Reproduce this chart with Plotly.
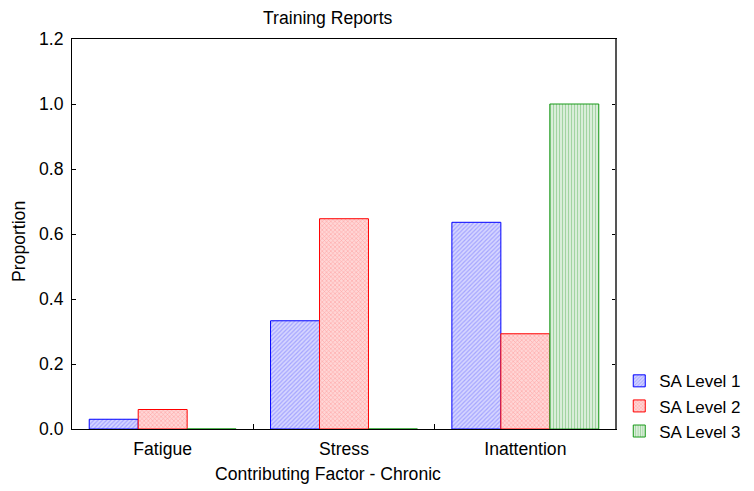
import plotly.graph_objects as go

categories = ["Fatigue", "Stress", "Inattention"]
series_names = ["SA Level 1", "SA Level 2", "SA Level 3"]
level1 = [0.03, 0.333, 0.636]
level2 = [0.06, 0.647, 0.293]
level3 = [0.0, 0.0, 1.0]
y_ticks = [0.0, 0.2, 0.4, 0.6, 0.8, 1.0, 1.2]

FONT = "Liberation Sans, Arial, sans-serif"
FS = 17.6

styles = [
    dict(line="#0000ff", fg="#a4a4ff", bg="#d6d6ff", shape="/", size=3, solidity=0.4),
    dict(line="#ff0000", fg="#ffa4a4", bg="#ffd6d6", shape="x", size=3, solidity=0.35),
    dict(line="#1a9a1a", fg="#a2d4a2", bg="#ffffff", shape="|", size=3, solidity=0.6),
]

fig = go.Figure()
for name, vals, st in zip(series_names, [level1, level2, level3], styles):
    fig.add_trace(go.Bar(
        x=categories, y=vals, name=name,
        marker=dict(
            color=st["bg"],
            line=dict(color=st["line"], width=1),
            pattern=dict(shape=st["shape"], fgcolor=st["fg"], bgcolor=st["bg"],
                         size=st["size"], solidity=st["solidity"], fillmode="replace"),
        ),
    ))

# The page body adds an 8px margin, so the figure is 8px smaller on each side.
fig.update_layout(
    width=746, height=483,
    margin=dict(l=64, r=138, t=31, b=62, autoexpand=False),
    paper_bgcolor="white", plot_bgcolor="white",
    font=dict(family=FONT, size=FS, color="black"),
    barmode="group", bargap=0.19, bargroupgap=0,
    showlegend=True,
    legend=dict(x=1.006, y=-0.052, xanchor="left", yanchor="bottom",
                bgcolor="rgba(0,0,0,0)", font=dict(size=17), tracegroupgap=0),
    annotations=[
        dict(text="Training Reports", xref="paper", yref="paper", x=0.47, y=1.0,
             yshift=21, showarrow=False, xanchor="center", yanchor="middle",
             font=dict(size=FS)),
        dict(text="Contributing Factor - Chronic", xref="paper", yref="paper", x=0.47, y=0,
             yshift=-45, showarrow=False, xanchor="center", yanchor="middle",
             font=dict(size=FS)),
        dict(text="Proportion", xref="paper", yref="paper", x=0, xshift=-53, y=0.5, yshift=-8,
             showarrow=False, textangle=-90, xanchor="center", yanchor="middle",
             font=dict(size=FS)),
    ],
    shapes=[
        dict(type="line", xref="paper", yref="paper", x0=1, x1=1, y0=0, y1=1,
             line=dict(color="#555555", width=2)),
    ],
)

fig.update_xaxes(
    showline=True, linecolor="black", linewidth=1, mirror=True,
    ticks="inside", tickson="boundaries", ticklen=5, tickcolor="black",
    showgrid=False, zeroline=False, tickfont=dict(size=FS), ticklabelstandoff=4,
)
fig.update_yaxes(
    range=[0, 1.2], tickvals=y_ticks, ticktext=[f"{v:.1f}" for v in y_ticks],
    showline=True, linecolor="black", linewidth=1, mirror="ticks",
    ticks="inside", ticklen=4, tickcolor="black",
    showgrid=False, zeroline=False, tickfont=dict(size=FS), ticklabelstandoff=4,
)

fig.write_html("out.html")
